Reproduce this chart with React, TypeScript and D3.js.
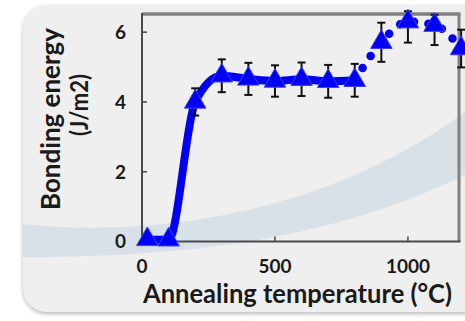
import React from 'react';
import * as d3 from 'd3';

// annealing temperature (°C) and measured bonding energy (J/m2)
const temps = [20, 100, 200, 300, 400, 500, 600, 700, 800, 900, 1000, 1100, 1200];
const energy = [0.06, 0.05, 4.0, 4.75, 4.66, 4.6, 4.65, 4.59, 4.62, 5.71, 6.3, 6.2, 5.53];
const errLow = [0, 0, 0.39, 0.47, 0.46, 0.45, 0.48, 0.47, 0.47, 0.56, 0.6, 0.57, 0.54];
const errHigh = [0, 0, 0.39, 0.47, 0.46, 0.45, 0.48, 0.47, 0.47, 0.56, 0.3, 0.3, 0.54];
const solidUntil = 8; // solid fit up to 800 °C, dotted after
const xTicks = [0, 500, 1000];
const yTicks = [0, 2, 4, 6];

const W = 465;
const H = 321;
const plot = { left: 142, right: 459, top: 14, bottom: 241.5 };
const FONT = 'Lato, "Open Sans", sans-serif';
const BLUE = '#0000f5';

export default function App() {
  const x = d3.scaleLinear().domain([0, 1192]).range([plot.left, plot.right]);
  const y = d3.scaleLinear().domain([0, 6.52]).range([plot.bottom, plot.top]);

  const pts = temps.map((t, i) => ({ t, e: energy[i], lo: errLow[i], hi: errHigh[i] }));

  const line = d3.line<{ t: number; e: number }>()
    .x(d => x(d.t))
    .y(d => y(d.e))
    .curve(d3.curveMonotoneX);

  const solidPath = line(pts.slice(0, solidUntil + 1)) || '';
  const dottedPath = line(pts.slice(solidUntil)) || '';
  const tri = d3.symbol().type(d3.symbolTriangle).size(200)() || '';

  // decorative swoosh behind the chart
  const band = 'M23,224 C150,238 330,215 470,108 L470,172 C350,234 200,258 23,257 Z';

  return (
    <svg width={W} height={H} style={{ position: 'absolute', left: 0, top: 0, background: '#ffffff' }}>
      <defs>
        <filter id="cardShadow" x="-10%" y="-10%" width="120%" height="120%">
          <feDropShadow dx="0" dy="2" stdDeviation="2" floodColor="#8a8a8a" floodOpacity="0.6" />
        </filter>
        <clipPath id="cardClip">
          <rect x={23} y={5} width={470} height={307} rx={24} />
        </clipPath>
      </defs>

      <rect x={23} y={5} width={470} height={307} rx={24} fill="#efefef" filter="url(#cardShadow)" />
      <path d={band} fill="#d9e1e8" clipPath="url(#cardClip)" />

      {/* frame */}
      <line x1={plot.left} x2={plot.right + 1.5} y1={plot.top} y2={plot.top} stroke="#808080" strokeWidth={3.5} />
      <line x1={plot.right} x2={plot.right} y1={plot.top} y2={plot.bottom} stroke="#808080" strokeWidth={3} />
      <line x1={plot.left} x2={plot.left} y1={plot.top - 1} y2={plot.bottom} stroke="#4a4a4a" strokeWidth={2} />
      <line x1={plot.left} x2={plot.right + 1.5} y1={plot.bottom} y2={plot.bottom} stroke="#4a4a4a" strokeWidth={2} />

      {yTicks.filter(v => v > 0).map(v => (
        <line key={'yt' + v} x1={plot.left} x2={plot.left + 5} y1={y(v)} y2={y(v)} stroke="#4a4a4a" strokeWidth={1.5} />
      ))}
      {xTicks.filter(v => v > 0).map(v => (
        <line key={'xt' + v} x1={x(v)} x2={x(v)} y1={plot.bottom} y2={plot.bottom - 5} stroke="#4a4a4a" strokeWidth={1.5} />
      ))}

      {yTicks.map(v => (
        <text key={'yl' + v} x={126} y={y(v)} dy="0.36em" textAnchor="end" fontFamily={FONT}
          fontWeight="bold" fontSize={19} fill="#1a1a1a">{v}</text>
      ))}
      {xTicks.map(v => (
        <text key={'xl' + v} x={x(v)} y={273} textAnchor="middle" fontFamily={FONT}
          fontWeight="bold" fontSize={19} fill="#1a1a1a">{v}</text>
      ))}

      <text x={297.5} y={303} textAnchor="middle" fontFamily={FONT} fontWeight="bold" fontSize={26}
        fill="#1a1a1a" textLength={309} lengthAdjust="spacingAndGlyphs">Annealing temperature (°C)</text>
      <text transform="translate(60,119) rotate(-90)" textAnchor="middle" fontFamily={FONT} fontWeight="bold"
        fontSize={26} fill="#1a1a1a" textLength={182} lengthAdjust="spacingAndGlyphs">Bonding energy</text>
      <text transform="translate(88,105) rotate(-90)" textAnchor="middle" fontFamily={FONT} fontWeight="bold"
        fontSize={25} fill="#1a1a1a" textLength={62} lengthAdjust="spacingAndGlyphs">(J/m2)</text>

      {/* fit lines */}
      <path d={solidPath} fill="none" stroke={BLUE} strokeWidth={8} strokeLinejoin="round" strokeLinecap="round" />
      <path d={dottedPath} fill="none" stroke={BLUE} strokeWidth={8.5} strokeLinecap="round" strokeDasharray="0 14.5" />

      {/* error bars */}
      {pts.filter(p => p.lo > 0).map(p => (
        <g key={'e' + p.t} stroke="#111" strokeWidth={2}>
          <line x1={x(p.t)} x2={x(p.t)} y1={y(p.e + p.hi)} y2={y(p.e - p.lo)} />
          <line x1={x(p.t) - 4} x2={x(p.t) + 4} y1={y(p.e + p.hi)} y2={y(p.e + p.hi)} />
          <line x1={x(p.t) - 4} x2={x(p.t) + 4} y1={y(p.e - p.lo)} y2={y(p.e - p.lo)} />
        </g>
      ))}

      {/* markers */}
      {pts.map(p => (
        <path key={'m' + p.t} d={tri} transform={`translate(${x(p.t)},${y(p.e)})`} fill={BLUE}
          stroke="#3c3cff" strokeWidth={1} strokeLinejoin="round" />
      ))}
    </svg>
  );
}
